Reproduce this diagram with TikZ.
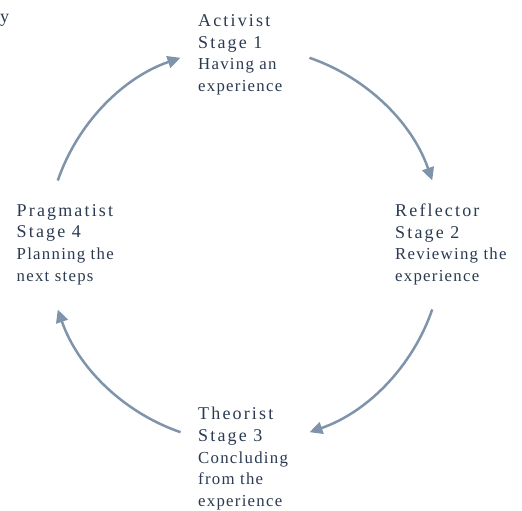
\documentclass[tikz,border=0pt]{standalone}
\usepackage{fontspec}
\setmainfont{Liberation Serif}
\newfontfamily\ttlfont[LetterSpace=12]{Liberation Serif}
\newfontfamily\bdyfont[LetterSpace=7.5]{Liberation Serif}
\usetikzlibrary{arrows.meta,calc}
\definecolor{txtcol}{RGB}{42,58,80}
\definecolor{arrcol}{RGB}{127,148,170}
\newcommand\ttl[1]{\hbox{\ttlfont\fontsize{18}{21.6}\selectfont #1}}
\newcommand\bdy[1]{\hbox{\bdyfont\fontsize{16.8}{21.6}\selectfont #1}}
\newcommand\blk[1]{\vtop{\baselineskip=21.6pt\lineskiplimit=-20pt #1}}
\tikzset{
  stage/.style={anchor=base west, inner sep=0pt, text=txtcol, align=left},
  cyc/.style={draw=arrcol, line width=2.5pt, -{Triangle[length=13pt,width=12pt]}}
}
\begin{document}
\begin{tikzpicture}[x=1pt,y=1pt]
\useasboundingbox (0,0) rectangle (522,511);
% image y -> 511 - y
\node[stage] (cut) at (0,511-22.5) {\ttlfont\fontsize{18}{20}\selectfont y};
\node[stage] (act) at (198,511-26.7) {\blk{\ttl{Activist}\ttl{Stage 1}\bdy{Having an}\bdy{experience}}};
\node[stage] (ref) at (395,511-216.7) {\blk{\ttl{Reflector}\ttl{Stage 2}\bdy{Reviewing the}\bdy{experience}}};
\node[stage] (the) at (198,511-420) {\blk{\ttl{Theorist}\ttl{Stage 3}\bdy{Concluding}\bdy{from the}\bdy{experience}}};
\node[stage] (pra) at (16.5,511-216.3) {\blk{\ttl{Pragmatist}\ttl{Stage 4}\bdy{Planning the}\bdy{next steps}}};
\coordinate (c) at (245,266);
\coordinate (s1) at ($(c)+(161:198)$);
\coordinate (s2) at ($(c)+(71:198)$);
\coordinate (s3) at ($(c)+(-19:198)$);
\coordinate (s4) at ($(c)+(-109:198)$);
\draw[cyc] (s1) arc[start angle=161, end angle=109, radius=198];
\draw[cyc] (s2) arc[start angle=71, end angle=19, radius=198];
\draw[cyc] (s3) arc[start angle=-19, end angle=-71, radius=198];
\draw[cyc] (s4) arc[start angle=-109, end angle=-161, radius=198];
\end{tikzpicture}
\end{document}
